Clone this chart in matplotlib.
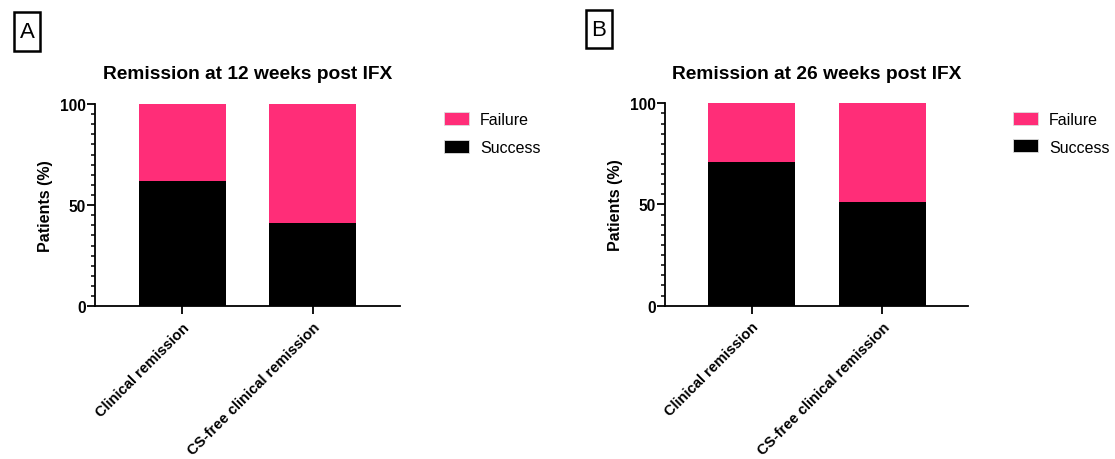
import matplotlib
matplotlib.use("Agg")
import matplotlib.pyplot as plt
from matplotlib.patches import Patch, Rectangle
from matplotlib.ticker import MultipleLocator

plt.rcParams['font.family'] = ['Liberation Sans', 'DejaVu Sans']

categories = ["Clinical remission", "CS-free clinical remission"]
titles = ["Remission at 12 weeks post IFX", "Remission at 26 weeks post IFX"]
panel_labels = ["A", "B"]
success_12 = [62, 41]
success_26 = [71, 51]
success_sets = [success_12, success_26]
yticks = [0, 50, 100]

pink = "#FF2D78"

fig = plt.figure(figsize=(11.15, 4.6), dpi=100)
axes_pos = [[0.0852, 0.3320, 0.2735, 0.4398], [0.5964, 0.3333, 0.2720, 0.4400]]
xlims = [(-0.672, 1.670), (-0.663, 1.657)]
legend_x = [1.124, 1.128]
label_boxes = [(13.6, 13.3, 26.8, 38.4), (585.7, 11, 26.3, 38.3)]

for i in range(2):
    ax = fig.add_axes(axes_pos[i])
    succ = success_sets[i]
    fail = [100 - s for s in succ]
    x = list(range(len(categories)))
    ax.bar(x, succ, width=0.664, color="black", edgecolor="black", linewidth=0)
    ax.bar(x, fail, bottom=succ, width=0.664, color=pink, linewidth=0)
    ax.set_xlim(*xlims[i])
    ax.set_ylim(0, 100)
    ax.set_xticks(x)
    ax.set_xticklabels(categories, rotation=45, ha="right", rotation_mode="anchor",
                       fontsize=10.6, fontweight="bold")
    ax.set_yticks(yticks)
    ax.set_yticklabels([str(t) for t in yticks], fontsize=11.2, fontweight="bold")
    ax.yaxis.set_minor_locator(MultipleLocator(5))
    for s in ["top", "right"]:
        ax.spines[s].set_visible(False)
    for s in ["left", "bottom"]:
        ax.spines[s].set_linewidth(1.3)
    ax.tick_params(axis="y", which="major", length=6, width=1.3, pad=0.5)
    ax.tick_params(axis="y", which="minor", length=3, width=1.1)
    ax.tick_params(axis="x", which="major", length=6, width=1.3, pad=4)
    ax.set_ylabel("Patients (%)", fontsize=11.5, fontweight="bold", labelpad=5)
    ax.set_title(titles[i], fontsize=13.8, fontweight="bold", pad=18.5)
    handles = [Patch(facecolor=pink, edgecolor="#dddddd", linewidth=0.6, label="Failure"),
               Patch(facecolor="black", edgecolor="#dddddd", linewidth=0.6, label="Success")]
    ax.legend(handles=handles, loc="upper left", bbox_to_anchor=(legend_x[i], 0.99),
              frameon=False, fontsize=11.5, handlelength=1.56, handleheight=0.875,
              handletextpad=0.67, labelspacing=0.8, borderaxespad=0)
    bx, by, bw, bh = label_boxes[i]
    fig.patches.append(Rectangle((bx / 1115, 1 - (by + bh) / 460), bw / 1115, bh / 460,
                                 transform=fig.transFigure, fill=False,
                                 edgecolor="black", linewidth=1.8))
    fig.text((bx + bw / 2) / 1115, 1 - (by + bh / 2) / 460, panel_labels[i],
             ha="center", va="center", fontsize=16)

fig.savefig("out.png", dpi=100)
